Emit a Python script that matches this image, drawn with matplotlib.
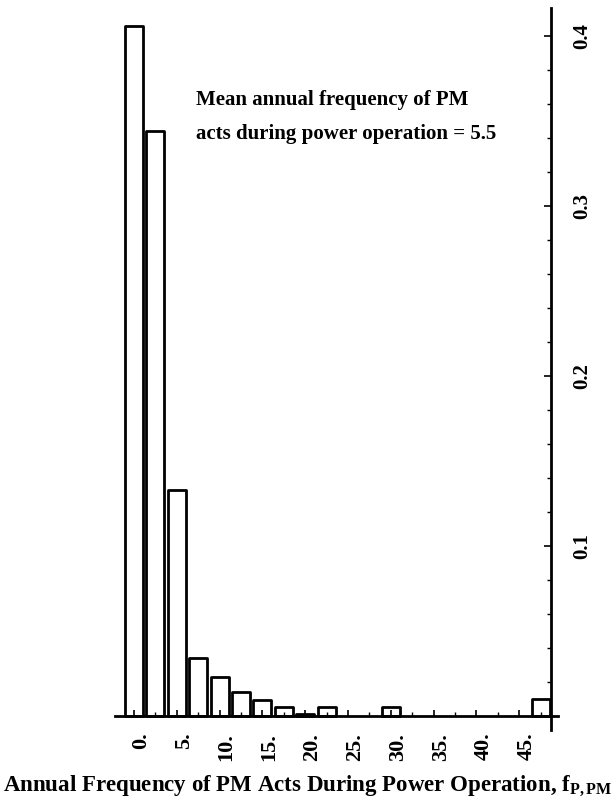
import matplotlib
matplotlib.use("Agg")
import matplotlib.pyplot as plt
import matplotlib.transforms as mtransforms
from matplotlib.ticker import FixedLocator, MultipleLocator

plt.rcParams['font.family'] = ['Liberation Serif', 'DejaVu Serif']
plt.rcParams['font.weight'] = 'bold'
plt.rcParams['mathtext.fontset'] = 'custom'
plt.rcParams['mathtext.rm'] = 'Liberation Serif:bold'
plt.rcParams['mathtext.it'] = 'Liberation Serif:bold'

# Data
bin_centers = [0, 2.5, 5, 7.5, 10, 12.5, 15, 17.5, 20, 22.5, 30, 47.5]
probabilities = [0.406, 0.344, 0.133, 0.034, 0.023, 0.014, 0.0095, 0.0055,
                 0.001, 0.005, 0.005, 0.010]
x_ticks = [0, 5, 10, 15, 20, 25, 30, 35, 40, 45]
x_tick_labels = ["0.", "5.", "10.", "15.", "20.", "25.", "30.", "35.", "40.", "45."]
y_ticks = [0.1, 0.2, 0.3, 0.4]
y_tick_labels = ["0.1", "0.2", "0.3", "0.4"]
annotation = "Mean annual frequency of PM\nacts during power operation = 5.5"
x_label = r"Annual Frequency of PM Acts During Power Operation, f$_{\mathrm{P,PM}}$"

fig = plt.figure(figsize=(6.16, 8.06), dpi=100)
ax = fig.add_axes([0.187, 0.0948, 0.7185, 0.8953])

ax.bar(bin_centers, probabilities, width=2.1, fill=False, edgecolor='black',
       linewidth=2.0, joinstyle='round')

ax.set_xlim(-2.2, 49.5)
ax.set_ylim(-0.008, 0.4165)

for s in ['top', 'left']:
    ax.spines[s].set_visible(False)
ax.spines['bottom'].set_position(('data', 0))
ax.spines['right'].set_position(('data', 48.7))
ax.spines['bottom'].set_linewidth(2.0)
ax.spines['right'].set_linewidth(2.0)

ax.yaxis.tick_right()
ax.xaxis.set_major_locator(FixedLocator(x_ticks))
ax.xaxis.set_minor_locator(MultipleLocator(2.5))
ax.set_xticklabels(x_tick_labels, rotation=90, fontsize=16, fontweight='bold')
ax.yaxis.set_major_locator(FixedLocator(y_ticks))
ax.yaxis.set_minor_locator(MultipleLocator(0.02))
ax.set_yticklabels(y_tick_labels, rotation=90, fontsize=15, fontweight='bold',
                   va='center')

ax.tick_params(axis='x', which='major', direction='in', length=4, width=1.2, pad=12)
ax.tick_params(axis='x', which='minor', direction='in', length=3, width=1.0)
ax.tick_params(axis='y', which='major', direction='in', length=5, width=1.2, pad=15,
               right=True, left=False, labelright=True, labelleft=False)
ax.tick_params(axis='y', which='minor', direction='in', length=3, width=1.0,
               right=True, left=False)

offset = mtransforms.ScaledTranslation(7 / 100, 0, fig.dpi_scale_trans)
for lbl in ax.get_xticklabels():
    lbl.set_transform(lbl.get_transform() + offset)

ax.text(0.1826, 0.886, annotation, transform=ax.transAxes, ha='left', va='top',
        fontsize=15, fontweight='bold', linespacing=1.9)

fig.text(0.5, 0.01, x_label, ha='center', va='bottom', fontsize=16.5,
         fontweight='bold')

fig.savefig("out.png", dpi=100)
